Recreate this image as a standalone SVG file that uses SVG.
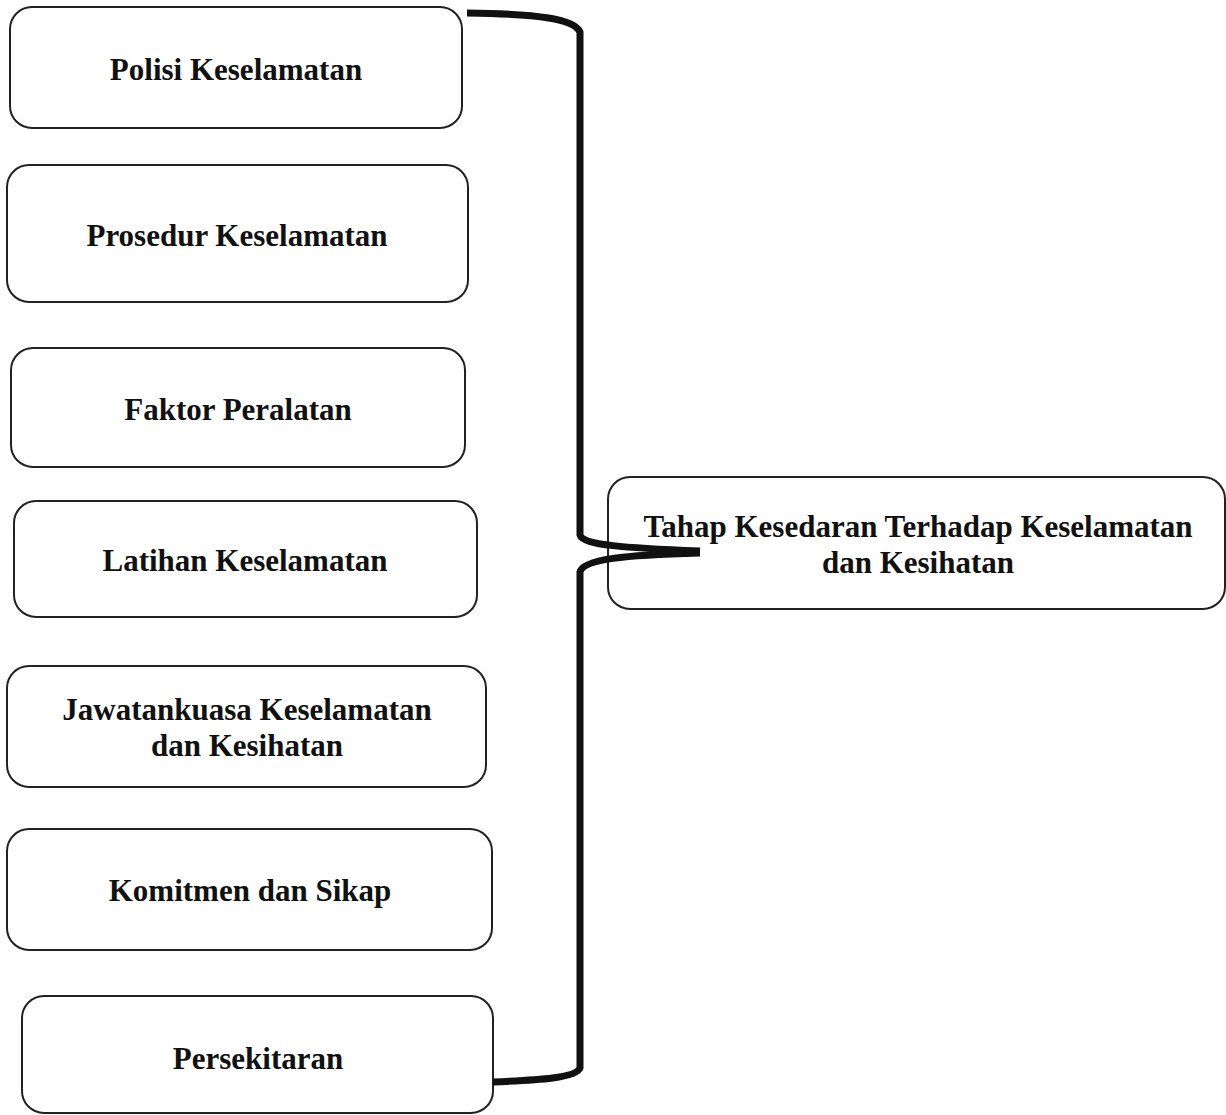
<svg xmlns="http://www.w3.org/2000/svg" width="1226" height="1115" viewBox="0 0 1226 1115">
<style>
.box{fill:#fff;stroke:#222;stroke-width:2}
.t{font-family:"Liberation Serif","Times New Roman",serif;font-weight:bold;font-size:31px;fill:#111;text-anchor:middle}
.br{fill:none;stroke:#111;stroke-width:7;stroke-linejoin:round;stroke-linecap:butt}
</style>
<rect width="1226" height="1115" fill="#fff"/>
<g id="n1"><rect class="box" x="10" y="7" width="452" height="121" rx="22"/><text class="t" x="236" y="80">Polisi Keselamatan</text></g>
<g id="n2"><rect class="box" x="7" y="165" width="461" height="137" rx="22"/><text class="t" x="237" y="246">Prosedur Keselamatan</text></g>
<g id="n3"><rect class="box" x="11" y="348" width="454" height="119" rx="22"/><text class="t" x="238" y="420">Faktor Peralatan</text></g>
<g id="n4"><rect class="box" x="14" y="501" width="463" height="116" rx="22"/><text class="t" x="245" y="571">Latihan Keselamatan</text></g>
<g id="n5"><rect class="box" x="7" y="666" width="479" height="121" rx="22"/><text class="t" x="247" y="720">Jawatankuasa Keselamatan</text><text class="t" x="247" y="756">dan Kesihatan</text></g>
<g id="n6"><rect class="box" x="7" y="829" width="485" height="121" rx="22"/><text class="t" x="250" y="901">Komitmen dan Sikap</text></g>
<g id="n7"><rect class="box" x="22" y="996" width="471" height="117" rx="22"/><text class="t" x="258" y="1069">Persekitaran</text></g>
<g id="n8"><rect class="box" x="608" y="477" width="617" height="132" rx="22"/><text class="t" x="918" y="537">Tahap Kesedaran Terhadap Keselamatan</text><text class="t" x="918" y="573">dan Kesihatan</text></g>
<g id="connectors">
<path class="br" d="M467,13 C540,14 574,19 580,32 L580,535 C583,545 625,548 700,551"/>
<path class="br" d="M700,553 C625,555 583,559 580,572 L580,1068 C576,1078 540,1080 493,1082"/>
</g>
</svg>
